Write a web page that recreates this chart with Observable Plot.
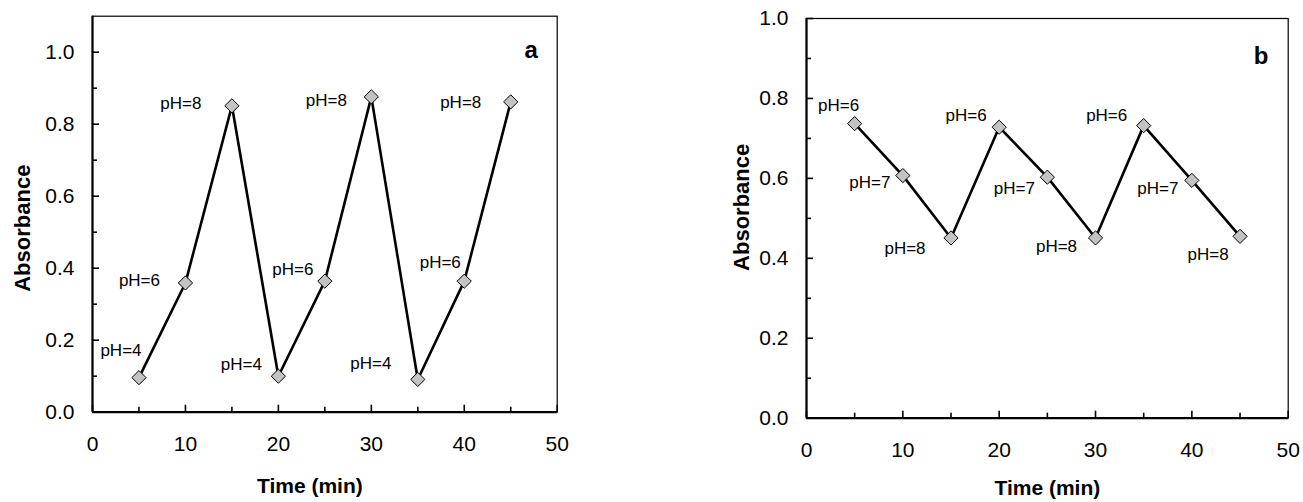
<!DOCTYPE html>
<html><head><meta charset="utf-8">
<script src="https://cdn.jsdelivr.net/npm/d3@7"></script>
<script src="https://cdn.jsdelivr.net/npm/@observablehq/plot@0.6"></script>
<style>
body{margin:0;background:#fff;}
#wrap{position:relative;width:1303px;height:502px;overflow:hidden;background:#fff;}
#wrap > div{position:absolute;top:0;}
</style></head><body><div id="wrap"><div id="pa"></div><div id="pb"></div></div>
<script>
// ---- data ----
const timeA = [5, 10, 15, 20, 25, 30, 35, 40, 45];
const absorbanceA = [0.096, 0.359, 0.851, 0.100, 0.364, 0.876, 0.091, 0.364, 0.862];
const pHLabelsA = ["pH=4", "pH=6", "pH=8", "pH=4", "pH=6", "pH=8", "pH=4", "pH=6", "pH=8"];

const timeB = [5, 10, 15, 20, 25, 30, 35, 40, 45];
const absorbanceB = [0.737, 0.607, 0.451, 0.728, 0.603, 0.451, 0.732, 0.595, 0.455];
const pHLabelsB = ["pH=6", "pH=7", "pH=8", "pH=6", "pH=7", "pH=8", "pH=6", "pH=7", "pH=8"];

const xTicks = [0, 10, 20, 30, 40, 50];
const xMinorTicks = [5, 15, 25, 35, 45];
const yTicks = [0, 0.2, 0.4, 0.6, 0.8, 1.0];
const yMinorTicks = [0.1, 0.3, 0.5, 0.7, 0.9];
const xTitle = "Time (min)";
const yTitle = "Absorbance";

// ---- layout / style (label offsets in px relative to each point) ----
const offsetsA = [[-18,-27],[-46,-2],[-51,-2],[-37,-12],[-32,-12],[-45,4],[-47,-16],[-24,-19],[-50,1]];
const offsetsB = [[-16,-18],[-33,7],[-46,11],[-33,-12],[-33,11],[-39,9],[-37,-10],[-34,8],[-32,18]];

const FONT = "'Liberation Sans', Arial, Helvetica, sans-serif";

function panel(cfg) {
  const data = cfg.time.map((t, i) => ({t, a: cfg.absorb[i], label: cfg.labels[i]}));
  const marks = [
    Plot.frame({stroke: "black", strokeWidth: 1.2}),
    Plot.ruleY([0], {stroke: "black", strokeWidth: 2.2}),
    Plot.ruleX([0], {stroke: "black", strokeWidth: 2.2}),
    Plot.axisX({ticks: xTicks, tickSize: -7, tickPadding: 31, tickFormat: d3.format("d"), label: null, strokeWidth: 1.6, fontSize: 21}),
    Plot.axisX({ticks: xMinorTicks, tickSize: -5, tickFormat: () => "", label: null, strokeWidth: 1.6}),
    Plot.axisY({ticks: yTicks, tickSize: -7, tickPadding: 25, tickFormat: d3.format(".1f"), label: null, strokeWidth: 1.6, fontSize: 21}),
    Plot.axisY({ticks: yMinorTicks, tickSize: -5, tickFormat: () => "", label: null, strokeWidth: 1.6}),
    Plot.line(data, {x: "t", y: "a", stroke: "black", strokeWidth: 2.6}),
    Plot.dot(data, {x: "t", y: "a", symbol: "diamond2", r: 6.4, fill: "#c3c3c3", stroke: "black", strokeWidth: 1}),
    ...data.map((d, i) => Plot.text([d], {x: "t", y: "a", text: "label", dx: cfg.offsets[i][0], dy: cfg.offsets[i][1], fontSize: 17, fill: "black"})),
    Plot.text([cfg.letter], {text: d => d, frameAnchor: "top-right", textAnchor: "middle", lineAnchor: "middle", dx: cfg.letterD[0], dy: cfg.letterD[1], fontWeight: "bold", fontSize: 24, fill: "black"}),
    Plot.text([xTitle], {text: d => d, frameAnchor: "bottom", textAnchor: "middle", lineAnchor: "middle", dx: cfg.xTitleD[0], dy: cfg.xTitleD[1], fontWeight: "bold", fontSize: 21, fill: "black"}),
    Plot.text([yTitle], {text: d => d, frameAnchor: "left", textAnchor: "middle", lineAnchor: "middle", rotate: -90, dx: cfg.yTitleD[0], dy: cfg.yTitleD[1], fontWeight: "bold", fontSize: 22, fill: "black"})
  ];
  const chart = Plot.plot({
    width: cfg.width, height: 502,
    marginLeft: cfg.m[0], marginRight: cfg.m[1], marginTop: cfg.m[2], marginBottom: cfg.m[3],
    x: {domain: [0, 50]},
    y: {domain: cfg.yDomain},
    style: {fontFamily: FONT, fontSize: "19px", color: "black", background: "transparent", overflow: "visible"},
    marks
  });
  const el = document.getElementById(cfg.el);
  el.style.left = cfg.left + "px";
  el.appendChild(chart);
}

panel({el: "pa", left: 0, width: 580, m: [92, 23.3, 15.7, 90.3], yDomain: [0, 1.1],
  time: timeA, absorb: absorbanceA, labels: pHLabelsA, offsets: offsetsA,
  letter: "a", letterD: [-26, 33.7], xTitleD: [-15, 74], yTitleD: [-70, 14]});
panel({el: "pb", left: 700, width: 603, m: [106, 15.3, 18, 84.3], yDomain: [0, 1],
  time: timeB, absorb: absorbanceB, labels: pHLabelsB, offsets: offsetsB,
  letter: "b", letterD: [-27, 38], xTitleD: [0, 70], yTitleD: [-65, -11]});
</script></body></html>
